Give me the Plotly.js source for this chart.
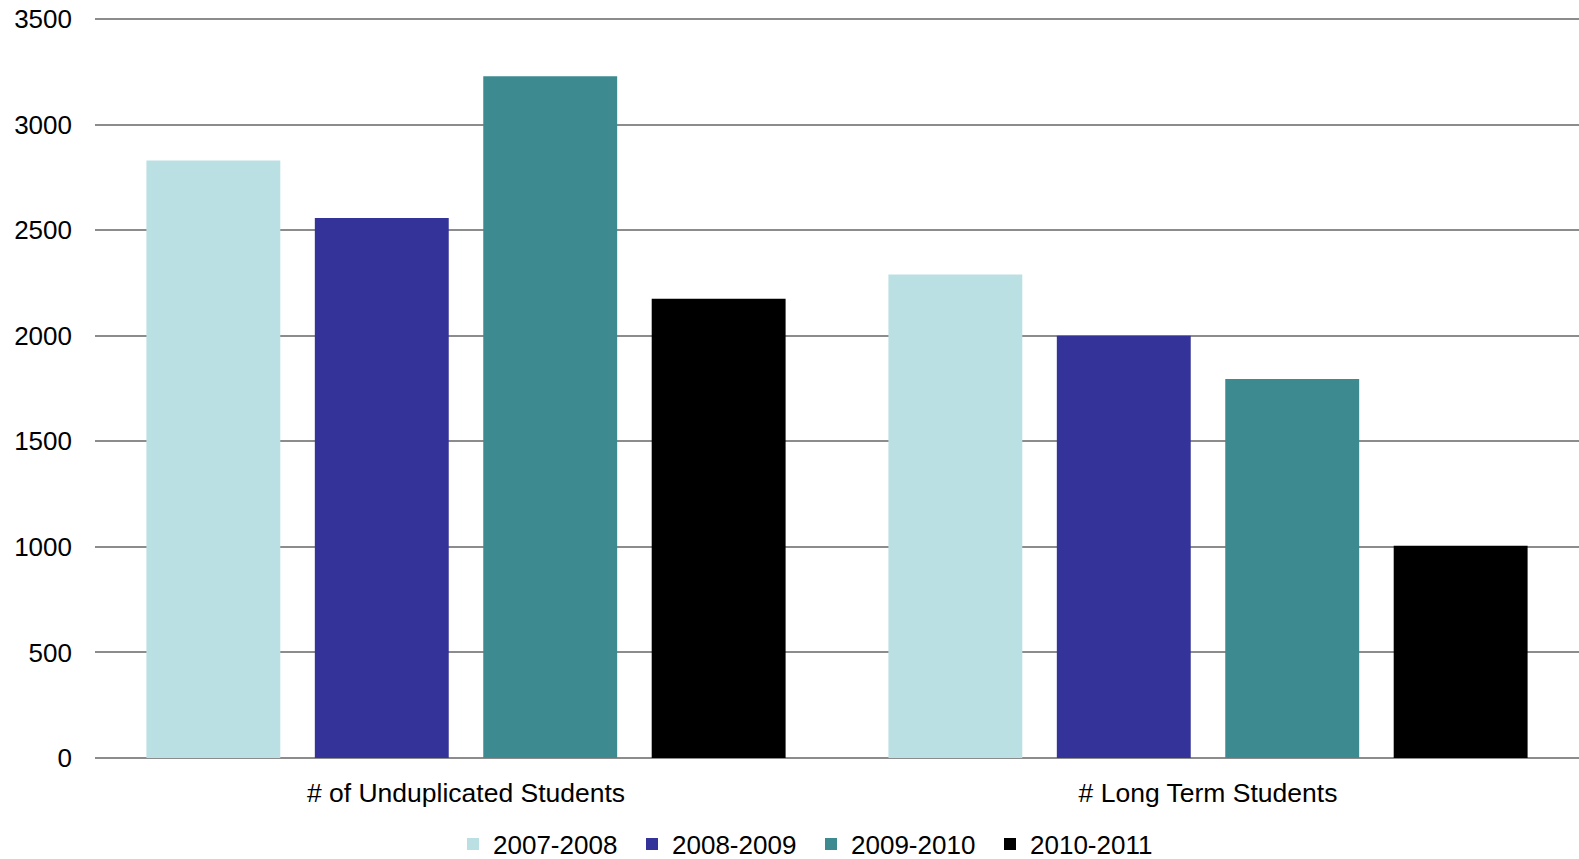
<!DOCTYPE html>
<html>
<head>
<meta charset="utf-8">
<script src="https://cdn.plot.ly/plotly-3.0.1.min.js"></script>
<style>html,body{margin:0;padding:0;background:#fff;}#chart{width:1579px;height:859px;}</style>
</head>
<body>
<div id="chart"></div>
<script>
var categories = ["# of Unduplicated Students", "# Long Term Students"];
var seriesNames = ["2007-2008", "2008-2009", "2009-2010", "2010-2011"];
var values2007 = [2830, 2290];
var values2008 = [2558, 2000];
var values2009 = [3230, 1795];
var values2010 = [2176, 1005];
var yTicks = [0, 500, 1000, 1500, 2000, 2500, 3000, 3500];

var colors = ["#BBE0E3", "#333399", "#3D8B91", "#000000"];
var allValues = [values2007, values2008, values2009, values2010];

var traces = allValues.map(function (vals, i) {
  return {
    type: "bar",
    name: seriesNames[i],
    x: categories,
    y: vals,
    marker: { color: colors[i], line: { width: 0 } },
    hoverinfo: "x+y+name"
  };
});

var layout = {
  width: 1579,
  height: 859,
  margin: { l: 95, r: 0, t: 16, b: 100.5, autoexpand: false },
  paper_bgcolor: "#ffffff",
  plot_bgcolor: "#ffffff",
  font: { family: "Liberation Sans, Arial, sans-serif", size: 26, color: "#000000" },
  barmode: "group",
  bargap: 0.092,
  bargroupgap: 0.205,
  showlegend: true,
  legend: {
    orientation: "h",
    x: 811 / 1579,
    xanchor: "center",
    xref: "container",
    y: 15 / 859,
    yanchor: "middle",
    yref: "container",
    font: { size: 26 },
    itemwidth: 30,
    entrywidth: 134,
    entrywidthmode: "pixels",
    traceorder: "normal"
  },
  xaxis: {
    type: "category",
    showgrid: false,
    showline: false,
    ticks: "",
    automargin: false,
    ticklabelstandoff: 16,
    tickfont: { size: 26.5 }
  },
  yaxis: {
    range: [0, 3515],
    tickvals: yTicks,
    ticktext: yTicks.map(String),
    showgrid: true,
    gridcolor: "#8c8c8c",
    gridwidth: 2,
    zeroline: true,
    zerolinecolor: "#8c8c8c",
    zerolinewidth: 2,
    showline: false,
    ticks: "",
    automargin: false,
    ticklabelstandoff: 22,
    tickfont: { size: 26 }
  }
};

Plotly.newPlot("chart", traces, layout, { displayModeBar: false, staticPlot: true });
</script>
</body>
</html>
